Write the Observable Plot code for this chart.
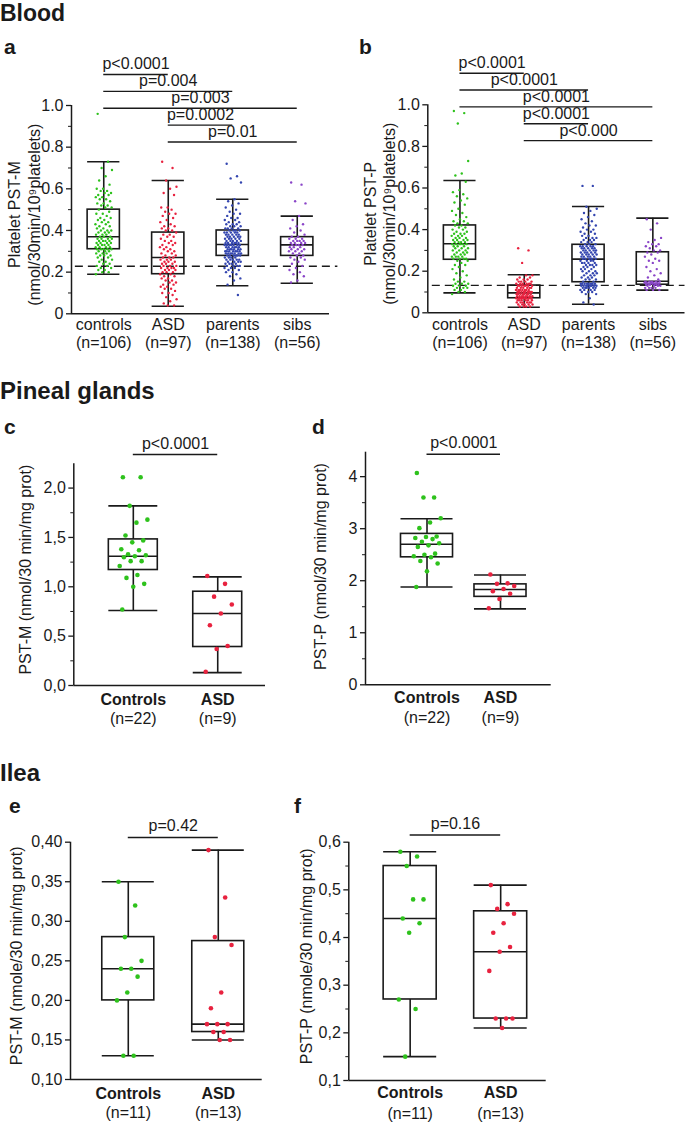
<!DOCTYPE html>
<html><head><meta charset="utf-8">
<script src="https://cdn.jsdelivr.net/npm/d3@7"></script>
<script src="https://cdn.jsdelivr.net/npm/@observablehq/plot@0.6"></script>
<style>
html,body{margin:0;padding:0;background:#fff;}
#root{position:relative;width:685px;height:1122px;overflow:hidden;font-family:"Liberation Sans",Arial,Helvetica,sans-serif;color:#1a1a1a;}
.h{position:absolute;font-weight:bold;line-height:1;white-space:nowrap;}
.pn{position:absolute;}
</style></head><body><div id="root"></div>
<script>
// ---------------- DATA ----------------
const bloodGroups = ["controls", "ASD", "parents", "sibs"];
const bloodN = ["(n=106)", "(n=97)", "(n=138)", "(n=56)"];
const tissueGroups = ["Controls", "ASD"];
const pinealN = ["(n=22)", "(n=9)"];
const ileaN = ["(n=11)", "(n=13)"];

// Panel a: platelet PST-M (nmol/30min/10^9 platelets)
const bloodM_controls = [0.96,0.73,0.70,0.69,0.66,0.64,0.62,0.60,0.60,0.59,0.59,0.58,0.58,0.57,0.57,0.56,0.56,0.55,0.55,0.54,0.53,0.53,0.52,0.52,0.51,0.51,
 0.50,0.49,0.48,0.48,0.47,0.46,0.46,0.45,0.45,0.44,0.44,0.43,0.43,0.42,0.42,0.41,0.41,0.40,0.40,0.40,0.39,0.39,0.39,0.38,0.38,0.38,0.37,
 0.37,0.37,0.36,0.36,0.36,0.36,0.35,0.35,0.35,0.35,0.34,0.34,0.34,0.34,0.33,0.33,0.33,0.33,0.32,0.32,0.32,0.32,0.31,0.31,0.31,0.31,0.31,
 0.30,0.30,0.30,0.29,0.29,0.29,0.28,0.28,0.28,0.27,0.27,0.26,0.26,0.25,0.25,0.24,0.24,0.23,0.23,0.22,0.22,0.21,0.21,0.20,0.20,0.19];
const bloodM_asd = [0.73,0.70,0.64,0.61,0.60,0.58,0.57,0.51,0.51,0.50,0.49,0.48,0.48,0.47,0.46,0.45,0.44,0.43,0.42,0.42,0.41,0.41,0.40,0.40,
 0.39,0.38,0.38,0.37,0.37,0.36,0.35,0.35,0.34,0.34,0.33,0.33,0.32,0.32,0.31,0.31,0.30,0.30,0.29,0.29,0.28,0.28,0.27,0.27,
 0.27,0.26,0.26,0.26,0.25,0.25,0.25,0.24,0.24,0.24,0.23,0.23,0.23,0.22,0.22,0.22,0.22,0.21,0.21,0.21,0.20,0.20,0.20,0.19,0.19,
 0.18,0.18,0.17,0.17,0.16,0.16,0.15,0.15,0.14,0.14,0.13,0.13,0.12,0.12,0.11,0.10,0.10,0.09,0.08,0.07,0.06,0.05,0.04,0.04];
const bloodM_parents = [0.72,0.66,0.65,0.63,0.55,0.54,0.53,0.52,0.51,0.50,0.49,0.48,0.48,0.47,0.46,0.46,0.45,0.45,0.44,0.44,0.43,0.43,0.43,0.42,0.42,0.42,0.41,0.41,0.41,0.41,0.40,0.40,0.40,0.40,
 0.39,0.39,0.39,0.39,0.39,0.38,0.38,0.38,0.38,0.38,0.37,0.37,0.37,0.37,0.37,0.36,0.36,0.36,0.36,0.36,0.35,0.35,0.35,0.35,0.35,0.34,0.34,0.34,0.34,0.34,0.34,0.33,0.33,0.33,0.33,
 0.33,0.33,0.33,0.32,0.32,0.32,0.32,0.32,0.32,0.31,0.31,0.31,0.31,0.31,0.31,0.30,0.30,0.30,0.30,0.30,0.30,0.30,0.29,0.29,0.29,0.29,0.29,0.29,0.29,0.28,0.28,0.28,0.28,0.28,0.28,
 0.27,0.27,0.27,0.27,0.26,0.26,0.26,0.26,0.26,0.25,0.25,0.25,0.25,0.24,0.24,0.24,0.24,0.23,0.23,0.23,0.23,0.22,0.22,0.22,0.21,0.21,0.20,0.20,0.19,0.18,0.17,0.16,0.14,0.09];
const bloodM_sibs = [0.63,0.62,0.54,0.53,0.47,0.45,0.43,0.42,0.41,0.40,0.39,0.38,0.37,0.37,
 0.36,0.36,0.36,0.35,0.35,0.35,0.35,0.34,0.34,0.34,0.34,0.33,0.33,0.33,
 0.33,0.32,0.32,0.32,0.31,0.31,0.31,0.30,0.30,0.30,0.29,0.29,0.28,0.28,
 0.27,0.27,0.26,0.26,0.25,0.24,0.23,0.22,0.21,0.20,0.19,0.18,0.16,0.15];
// box stats: [lower whisker, Q1, median, Q3, upper whisker]
const bloodM_stats = [[0.19,0.31,0.37,0.50,0.73],[0.036,0.19,0.27,0.39,0.64],[0.135,0.278,0.333,0.40,0.55],[0.147,0.278,0.331,0.368,0.469]];
const bloodM_cutoff = 0.228;
const bloodM_pvalues = ["p<0.0001","p=0.004","p=0.003","p=0.0002","p=0.01"];

// Panel b: platelet PST-P
const bloodP_controls = [0.97,0.96,0.91,0.73,0.67,0.66,0.63,0.59,0.58,0.57,0.56,0.55,0.54,0.53,0.52,0.50,0.49,0.48,0.47,0.46,0.45,0.44,0.44,0.43,0.43,0.42,
 0.42,0.41,0.41,0.40,0.40,0.39,0.39,0.38,0.38,0.38,0.37,0.37,0.37,0.36,0.36,0.36,0.35,0.35,0.35,0.35,0.34,0.34,0.34,0.34,0.33,0.33,0.33,
 0.33,0.33,0.32,0.32,0.32,0.31,0.31,0.31,0.30,0.30,0.30,0.29,0.29,0.29,0.28,0.28,0.28,0.27,0.27,0.27,0.27,0.26,0.26,0.26,0.26,0.25,0.25,
 0.24,0.23,0.23,0.22,0.21,0.20,0.19,0.18,0.17,0.16,0.15,0.15,0.14,0.14,0.14,0.13,0.13,0.13,0.12,0.12,0.12,0.11,0.11,0.10,0.10,0.09];
const bloodP_asd = [0.31,0.30,0.24,0.18,0.18,0.17,0.17,0.16,0.16,0.16,0.15,0.15,0.15,0.15,0.14,0.14,0.14,0.14,0.14,0.14,0.13,0.13,0.13,0.13,
 0.13,0.13,0.13,0.12,0.12,0.12,0.12,0.12,0.12,0.11,0.11,0.11,0.11,0.11,0.11,0.11,0.10,0.10,0.10,0.10,0.10,0.10,0.10,0.10,0.10,
 0.09,0.09,0.09,0.09,0.09,0.09,0.09,0.09,0.08,0.08,0.08,0.08,0.08,0.08,0.08,0.08,0.07,0.07,0.07,0.07,0.07,0.07,0.07,0.07,
 0.07,0.07,0.07,0.06,0.06,0.06,0.06,0.06,0.06,0.05,0.05,0.05,0.05,0.05,0.05,0.04,0.04,0.04,0.04,0.04,0.03,0.03,0.03,0.03];
const bloodP_parents = [0.61,0.61,0.51,0.50,0.49,0.48,0.47,0.46,0.45,0.44,0.43,0.42,0.42,0.41,0.40,0.40,0.39,0.39,0.38,0.38,0.37,0.37,0.36,0.36,0.36,0.35,0.35,0.35,0.34,0.34,0.34,0.33,0.33,0.33,
 0.32,0.32,0.32,0.32,0.32,0.31,0.31,0.31,0.31,0.31,0.30,0.30,0.30,0.30,0.30,0.29,0.29,0.29,0.29,0.29,0.28,0.28,0.28,0.28,0.28,0.27,0.27,0.27,0.27,0.27,0.26,0.26,0.26,0.26,0.26,
 0.25,0.25,0.25,0.25,0.24,0.24,0.24,0.24,0.23,0.23,0.23,0.23,0.22,0.22,0.22,0.21,0.21,0.21,0.20,0.20,0.20,0.19,0.19,0.19,0.18,0.18,0.18,0.17,0.17,0.17,0.16,0.16,0.16,0.15,0.15,
 0.14,0.14,0.14,0.14,0.14,0.14,0.14,0.14,0.13,0.13,0.13,0.13,0.13,0.13,0.13,0.13,0.12,0.12,0.12,0.12,0.12,0.12,0.11,0.11,0.11,0.11,0.10,0.10,0.10,0.09,0.09,0.07,0.05,0.04];
const bloodP_sibs = [0.45,0.43,0.40,0.36,0.35,0.34,0.33,0.33,0.32,0.32,0.31,0.30,0.30,0.29,
 0.29,0.28,0.27,0.26,0.25,0.25,0.24,0.22,0.21,0.20,0.19,0.18,0.17,0.16,
 0.15,0.15,0.15,0.15,0.15,0.145,0.145,0.145,0.145,0.145,0.14,0.14,0.14,0.14,
 0.135,0.135,0.135,0.13,0.13,0.13,0.13,0.12,0.12,0.12,0.12,0.11,0.11,0.11];
const bloodP_stats = [[0.096,0.255,0.332,0.42,0.636],[0.027,0.07,0.096,0.131,0.183],[0.041,0.147,0.258,0.327,0.511],[0.109,0.135,0.152,0.291,0.455]];
const bloodP_cutoff = 0.132;
const bloodP_pvalues = ["p<0.0001","p<0.0001","p<0.0001","p<0.0001","p<0.000"];

// Blood comparison pairs (group index from, to)
const bloodPairs = [[0,1],[0,2],[0,3],[1,2],[1,3]];

// Panel c: pineal PST-M (nmol/30 min/mg prot)
const pinealM_controls = [2.11,2.11,1.82,1.68,1.65,1.52,1.47,1.45,1.38,1.37,1.33,1.32,1.31,1.30,1.26,1.26,1.21,1.12,1.09,1.03,1.00,0.77];
const pinealM_asd = [1.11,1.03,0.90,0.82,0.73,0.61,0.40,0.37,0.14];
const pinealM_stats = [[0.76,1.17,1.31,1.48,1.82],[0.13,0.39,0.73,0.95,1.10]];
const pinealM_p = "p<0.0001";

// Panel d: pineal PST-P
const pinealP_controls = [4.07,3.60,3.60,3.20,3.12,3.01,2.85,2.84,2.82,2.80,2.75,2.72,2.68,2.65,2.52,2.50,2.47,2.45,2.38,2.33,2.18,1.88];
const pinealP_asd = [2.12,1.95,1.94,1.90,1.84,1.80,1.75,1.65,1.47];
const pinealP_stats = [[1.88,2.45,2.70,2.90,3.19],[1.46,1.69,1.83,1.93,2.11]];
const pinealP_p = "p<0.0001";

// Panel e: ilea PST-M (nmole/30 min/mg prot)
const ileaM_controls = [0.35,0.32,0.28,0.25,0.24,0.24,0.23,0.21,0.20,0.13,0.13];
const ileaM_asd = [0.39,0.33,0.28,0.27,0.21,0.19,0.17,0.17,0.17,0.16,0.16,0.15,0.15];
const ileaM_stats = [[0.13,0.20,0.24,0.28,0.35],[0.15,0.16,0.17,0.275,0.39]];
const ileaM_p = "p=0.42";

// Panel f: ilea PST-P
const ileaP_controls = [0.58,0.57,0.55,0.48,0.48,0.44,0.43,0.41,0.27,0.25,0.15];
const ileaP_asd = [0.51,0.47,0.46,0.45,0.43,0.41,0.38,0.37,0.33,0.23,0.23,0.23,0.21];
const ileaP_stats = [[0.15,0.27,0.44,0.55,0.58],[0.21,0.23,0.37,0.455,0.51]];
const ileaP_p = "p=0.16";

const groupColors = ["#2ec21c", "#e8223f", "#3446b0", "#8a45c8"];

// ---------------- DRAWING ----------------
const FONT = '"Liberation Sans", Arial, Helvetica, sans-serif';
const INK = "#1a1a1a";
const jit = k => ((k * 0.6180339887 + 0.137) % 1) * 2 - 1;   // deterministic spread

function panel(c) {
  const h = c.half;
  const boxes = c.stats.map((s, i) => ({i, low: s[0], q1: s[1], med: s[2], q3: s[3], high: s[4]}));
  const whisk = boxes.flatMap(b => [{i: b.i, y1: b.low, y2: b.q1}, {i: b.i, y1: b.q3, y2: b.high}]);
  const pts = c.points.flatMap((arr, i) => arr.map((v, k) => ({x: i + jit(k) * c.jitter, v, col: groupColors[i]})));
  const cats = c.labels.map((l, i) => ({i, l, n: c.nLabels[i]}));
  const sig = c.pairs.map((p, k) => ({a: p[0], b: p[1], label: c.pvalues[k], y: c.sigTop - k * c.sigStep}));
  const bx1 = d => d.i - h, bx2 = d => d.i + h;
  const lw = 1.6;
  const marks = [
    Plot.ruleX([c.xDomain[0]], {stroke: INK, strokeWidth: 1.5}),
    Plot.ruleY([c.yDomain[0]], {stroke: INK, strokeWidth: 1.5}),
    Plot.axisY({ticks: c.ticks, tickFormat: c.fmt, tickSize: 5, tickPadding: 3, fontSize: 16, stroke: INK, strokeWidth: 1.3, label: null}),
  ];
  if (c.minor) marks.push(Plot.axisY({ticks: c.minor, tickFormat: () => "", tickSize: 3, stroke: INK, strokeWidth: 1, label: null}));
  if (c.cutoff != null) marks.push(Plot.ruleY([c.cutoff], {x1: c.cutX[0], x2: c.cutX[1], stroke: INK, strokeWidth: 1.4, strokeDasharray: "8,5"}));
  marks.push(
    Plot.ruleX(whisk, {x: "i", y1: "y1", y2: "y2", stroke: INK, strokeWidth: lw}),
    Plot.ruleY(boxes, {x1: bx1, x2: bx2, y: "low", stroke: INK, strokeWidth: lw}),
    Plot.ruleY(boxes, {x1: bx1, x2: bx2, y: "high", stroke: INK, strokeWidth: lw}),
    Plot.rect(boxes, {x1: bx1, x2: bx2, y1: "q1", y2: "q3", fill: "none", stroke: INK, strokeWidth: lw}),
    Plot.ruleY(boxes, {x1: bx1, x2: bx2, y: "med", stroke: INK, strokeWidth: lw}),
    Plot.dot(pts, {x: "x", y: "v", r: c.r, fill: "col", stroke: null}),
    Plot.ruleY(sig, {x1: "a", x2: "b", y: "y", stroke: INK, strokeWidth: 1.4}),
    Plot.text(sig, {x: d => (d.a + d.b) / 2, y: "y", text: "label", dy: c.sigDy, lineAnchor: "bottom", fontSize: 16, fill: INK}),
    Plot.text(cats, {x: "i", text: "l", frameAnchor: "bottom", lineAnchor: "bottom", dy: c.catDy[0], fontSize: 16, fontWeight: c.catBold ? "bold" : "normal", fill: INK}),
    Plot.text(cats, {x: "i", text: "n", frameAnchor: "bottom", lineAnchor: "bottom", dy: c.catDy[1], fontSize: 16, fill: INK})
  );
  c.ylab.forEach((t, k) => marks.push(
    Plot.text([t], {text: d => d, frameAnchor: "left", rotate: -90, dx: c.ylabDx[k], dy: c.ylabDy, textAnchor: "middle", lineAnchor: "middle", fontSize: 16, fill: INK})
  ));
  const svg = Plot.plot({
    width: c.w, height: c.hgt,
    marginLeft: c.m[0], marginRight: c.m[1], marginTop: c.m[2], marginBottom: c.m[3],
    x: {domain: c.xDomain, axis: null},
    y: {domain: c.yDomain},
    color: {type: "identity"},
    style: {fontFamily: FONT, fontSize: "16px", color: INK, background: "transparent", overflow: "visible"},
    marks
  });
  const wrap = document.createElement("div");
  wrap.className = "pn";
  wrap.style.left = c.left + "px";
  wrap.style.top = c.top + "px";
  wrap.appendChild(svg);
  document.getElementById("root").appendChild(wrap);
}

const fmtDot = d => d === 0 ? "0" : d.toFixed(1);
const fmtComma = n => d => d.toFixed(n).replace(".", ",");

// a
panel({left: 0, top: 40, w: 340, hgt: 320, m: [71, 11, 65, 46.7],
  xDomain: [-0.5, 3.5], yDomain: [0, 1.0], half: 0.25, jitter: 0.13, r: 1.2,
  labels: bloodGroups, nLabels: bloodN, catBold: false, catDy: [16, 34],
  stats: bloodM_stats, points: [bloodM_controls, bloodM_asd, bloodM_parents, bloodM_sibs],
  ticks: [0, 0.2, 0.4, 0.6, 0.8, 1.0], minor: [0.1, 0.3, 0.5, 0.7, 0.9], fmt: fmtDot,
  cutoff: bloodM_cutoff, cutX: [-0.44, 3.63],
  pairs: bloodPairs, pvalues: bloodM_pvalues, sigTop: 1.149, sigStep: 0.081, sigDy: -5,
  ylab: ["Platelet PST-M", "(nmol/30min/10⁹platelets)"], ylabDx: [-57, -37], ylabDy: 5});
// b
panel({left: 340, top: 40, w: 345, hgt: 320, m: [87.3, 0.5, 64.3, 47.7],
  xDomain: [-0.5, 3.5], yDomain: [0, 1.0], half: 0.25, jitter: 0.13, r: 1.2,
  labels: bloodGroups, nLabels: bloodN, catBold: false, catDy: [17, 35],
  stats: bloodP_stats, points: [bloodP_controls, bloodP_asd, bloodP_parents, bloodP_sibs],
  ticks: [0, 0.2, 0.4, 0.6, 0.8, 1.0], minor: [0.1, 0.3, 0.5, 0.7, 0.9], fmt: fmtDot,
  cutoff: bloodP_cutoff, cutX: [-0.43, 3.5],
  pairs: bloodPairs, pvalues: bloodP_pvalues, sigTop: 1.152, sigStep: 0.081, sigDy: -5,
  ylab: ["Platelet PST-P", "(nmol/30min/10⁹platelets)"], ylabDx: [-57, -38], ylabDy: 5});
// c
panel({left: 0, top: 420, w: 290, hgt: 320, m: [73.3, 25, 43.3, 55],
  xDomain: [-0.705, 1.566], yDomain: [0, 2.246], half: 0.29, jitter: 0.17, r: 2.3,
  labels: tissueGroups, nLabels: pinealN, catBold: true, catDy: [19, 38],
  stats: pinealM_stats, points: [pinealM_controls, pinealM_asd],
  ticks: [0, 0.5, 1.0, 1.5, 2.0], minor: [0.25, 0.75, 1.25, 1.75], fmt: fmtComma(1),
  pairs: [[0, 1]], pvalues: [pinealM_p], sigTop: 2.34, sigStep: 0, sigDy: -6,
  ylab: ["PST-M (nmol/30 min/mg prot)"], ylabDx: [-48], ylabDy: -5});
// d
panel({left: 290, top: 420, w: 395, hgt: 320, m: [75, 134.3, 31.7, 55.7],
  xDomain: [-0.837, 1.69], yDomain: [0, 4.47], half: 0.354, jitter: 0.19, r: 2.3,
  labels: tissueGroups, nLabels: pinealN, catBold: true, catDy: [18.5, 38],
  stats: pinealP_stats, points: [pinealP_controls, pinealP_asd],
  ticks: [0, 1, 2, 3, 4], minor: [0.5, 1.5, 2.5, 3.5], fmt: d => d.toFixed(0),
  pairs: [[0, 1]], pvalues: [pinealP_p], sigTop: 4.43, sigStep: 0, sigDy: -6,
  ylab: ["PST-P (nmol/30 min/mg prot)"], ylabDx: [-45], ylabDy: -2});
// e
panel({left: 0, top: 805, w: 290, hgt: 317, m: [70, 28.3, 36.7, 43],
  xDomain: [-0.642, 1.488], yDomain: [0.10, 0.40], half: 0.289, jitter: 0.15, r: 2.3,
  labels: tissueGroups, nLabels: ileaN, catBold: true, catDy: [19, 38.5],
  stats: ileaM_stats, points: [ileaM_controls, ileaM_asd],
  ticks: [0.10, 0.15, 0.20, 0.25, 0.30, 0.35, 0.40], fmt: fmtComma(2),
  pairs: [[0, 1]], pvalues: [ileaM_p], sigTop: 0.406, sigStep: 0, sigDy: -6,
  ylab: ["PST-M (nmole/30 min/mg prot)"], ylabDx: [-54], ylabDy: -5});
// f
panel({left: 290, top: 805, w: 395, hgt: 317, m: [58.3, 139.3, 36.7, 42],
  xDomain: [-0.678, 1.503], yDomain: [0.10, 0.60], half: 0.293, jitter: 0.15, r: 2.3,
  labels: tissueGroups, nLabels: ileaN, catBold: true, catDy: [17, 38],
  stats: ileaP_stats, points: [ileaP_controls, ileaP_asd],
  ticks: [0.1, 0.2, 0.3, 0.4, 0.5, 0.6], minor: [0.15, 0.25, 0.35, 0.45, 0.55], fmt: fmtComma(1),
  pairs: [[0, 1]], pvalues: [ileaP_p], sigTop: 0.615, sigStep: 0, sigDy: -6,
  ylab: ["PST-P (nmole/30 min/mg prot)"], ylabDx: [-42], ylabDy: -5});

// headings and panel letters: [text, left, top, font size, line height]
const headings = [
  ["Blood", 0, 0, 23, "normal"], ["a", 4, 35.5, 21, "1"], ["b", 359, 35.5, 21, "1"],
  ["Pineal glands", 0, 378.7, 24, "1"], ["c", 4, 416.2, 21, "1"], ["d", 312, 416.2, 21, "1"],
  ["Ilea", 0, 760.7, 24, "1"], ["e", 9, 794.9, 21, "1"], ["f", 294, 795.2, 21, "1"]
];
for (const [t, x, y, fs, lh] of headings) {
  const d = document.createElement("div");
  d.className = "h";
  d.textContent = t;
  d.style.left = x + "px"; d.style.top = y + "px"; d.style.fontSize = fs + "px"; d.style.lineHeight = lh;
  document.getElementById("root").appendChild(d);
}
</script>
</body></html>
